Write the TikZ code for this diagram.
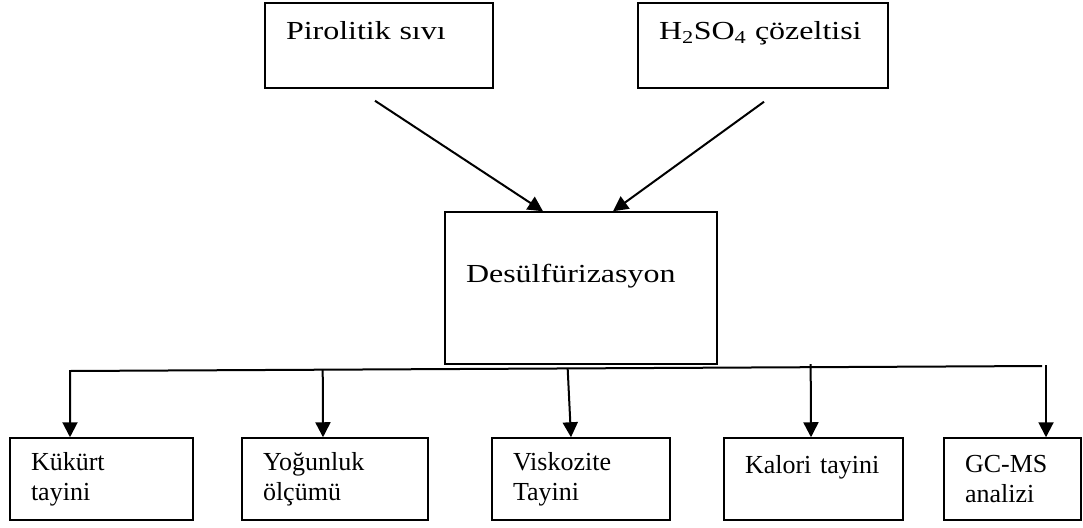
\documentclass[tikz,border=0pt]{standalone}
\usepackage{fontspec}
\setmainfont{Liberation Serif}
\newfontfamily\widefont{Liberation Serif}[FakeStretch=1.23]
\usetikzlibrary{arrows.meta,calc}
\begin{document}
\begin{tikzpicture}[x=1pt,y=-1pt,
  box/.style={draw,line width=1.5pt,inner xsep=21pt,inner ysep=0pt,align=left,
    font=\fontsize{26}{30}\selectfont},
  widetext/.style={font=\widefont\fontsize{26}{30}\selectfont},
  arr/.style={line width=2pt,-{Triangle[width=15pt,length=15pt]}}]
\useasboundingbox (0,0) rectangle (1083,527);

\node[box,widetext,text width=186pt,minimum height=85pt] (piro) at (379,45.5) {Pirolitik sıvı\\~};
\node[box,widetext,text width=208pt,minimum height=85pt] (asit) at (763,45.5) {H\textsubscript{2}SO\textsubscript{4} çözeltisi\\~};
\node[box,widetext,text width=230pt,minimum height=152pt] (desulf) at (581,288) {Desülfürizasyon\\~};

\node[box,text width=141pt,minimum height=82pt] (kukurt) at (101.5,479) {Kükürt\\tayini};
\node[box,text width=144pt,minimum height=82pt] (yogun) at (335,479) {Yoğunluk\\ölçümü};
\node[box,text width=136pt,minimum height=82pt] (visko) at (581,479) {Viskozite\\Tayini};
\node[box,text width=137pt,minimum height=82pt] (kalori) at (813.5,479) {Kalori tayini\\~};
\node[box,text width=95pt,minimum height=82pt] (gcms) at (1012.5,479) {GC-MS\\analizi};

\draw[arr] ($(piro.south)+(-4,12)$) -- ($(desulf.north)+(-38,0)$);
\draw[arr] ($(asit.south)+(1,13)$) -- ($(desulf.north)+(32,0)$);

\coordinate (busL) at (70,371);
\coordinate (busR) at (1042,366);
\draw[arr] (busR) -- (busL) -- (busL |- kukurt.north);
\draw[arr] ($(busL)!0.26!(busR)$) -- ($(yogun.north)+(-12,0)$);
\draw[arr] ($(busL)!0.512!(busR)$) -- ($(visko.north)+(-10,0)$);
\draw[arr] ($(busL)!0.762!(busR)+(0,-3)$) -- ($(kalori.north)+(-2.5,0)$);
\draw[arr] ($(busR)+(4,-1)$) -- ($(gcms.north)+(33.5,0)$);
\end{tikzpicture}
\end{document}
